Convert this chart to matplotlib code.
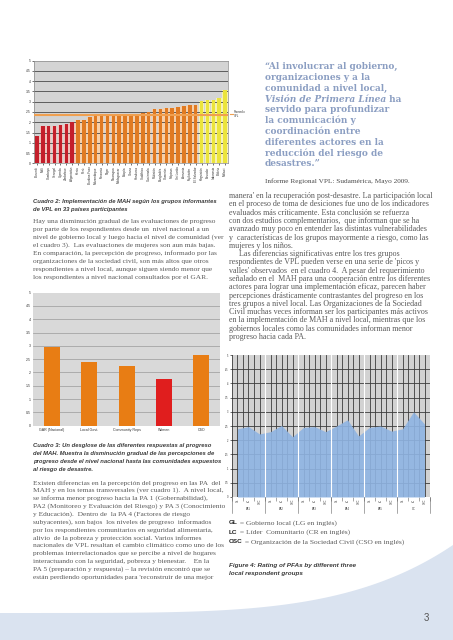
import numpy as np
import matplotlib.pyplot as plt
from matplotlib.patches import Polygon
import matplotlib.transforms as mtrans

W, H = 453, 640

# Cuadro 2: paises VPL y su puntaje promedio
paises = ['Burundi', 'Malí', 'Camboya', 'Senegal', 'Uganda', 'Zimbabue', 'Afganistán',
          'Kenia', 'Perú', 'Burkina Faso', 'Mozambique', 'Tanzania', 'Níger', 'Nicaragua',
          'Madagascar', 'Etiopía', 'Ghana', 'Honduras', 'Sudáfrica', 'Guatemala', 'Pakistán',
          'Bangladés', 'Camerún', 'Filipinas', 'Sri Lanka', 'Armenia', 'Tayikistán',
          'El Salvador', 'Kirguistán', 'Ecuador', 'Indonesia', 'Bolivia', 'Malawi']
puntajes = [1.31, 1.80, 1.80, 1.82, 1.85, 1.90, 2.00,
            2.10, 2.12, 2.25, 2.30, 2.32, 2.35, 2.35, 2.35, 2.40, 2.40, 2.42, 2.45, 2.50,
            2.65, 2.65, 2.68, 2.68, 2.75, 2.80, 2.82, 2.85,
            3.05, 3.10, 3.08, 3.20, 3.55]
nivel = ['bajo'] * 7 + ['medio'] * 21 + ['alto'] * 5
promedio_vpl = 2.33

# Cuadro 3: respuestas por grupo
grupos_resp = ['GAR (Nacional)', 'Local Govt.', 'Community Reps', 'Women', 'CSO']
progreso_resp = [2.96, 2.39, 2.26, 1.75, 2.64]

# Figure 4: PA por grupo local
pa_grupos = ['PA1', 'PA2', 'PA3', 'PA4', 'PA5', 'CC']
actores = ['GL', 'LC', 'OSC']
rating_pa = [2.40, 2.48, 2.22, 2.30, 2.52, 2.12, 2.45, 2.48, 2.30,
             2.50, 2.72, 2.15, 2.45, 2.50, 2.32, 2.40, 3.00, 2.57]

plt.rcParams['font.family'] = ['Liberation Serif', 'DejaVu Serif']

fig = plt.figure(figsize=(W / 100, H / 100), dpi=100)
fig.patch.set_facecolor('white')
rend = fig.canvas.get_renderer()

def ejes(l, t, r, b):
    return fig.add_axes([l / W, 1 - b / H, (r - l) / W, (b - t) / H])

def linea(x, y, s, **kw):
    return fig.text(x / W, 1 - y / H, s, va='center', ha='left', **kw)

def bloque(x, y0, dy, lineas, **kw):
    for i, s in enumerate(lineas):
        linea(x, y0 + i * dy, s, **kw)

def partes(x, y, trozos):
    # coloca trozos de texto uno tras otro en la misma linea
    for s, kw in trozos:
        t = linea(x, y, s, **kw)
        x += t.get_window_extent(rend).width

# fondo azul de la pagina
xs = np.linspace(0, W, 100)
ys = 613 - 68 * (xs / W) ** 4.5
poly = np.column_stack([xs / W, 1 - ys / H])
poly = np.vstack([poly, [[1, 0], [0, 0]]])
fig.patches.append(Polygon(poly, closed=True, transform=fig.transFigure,
                           facecolor='#dae3f0', edgecolor='none', zorder=0))
ys2 = 622 - 62 * (xs / W) ** 3.5
fig.lines.append(plt.Line2D(xs / W, 1 - ys2 / H, transform=fig.transFigure,
                            color='white', lw=1.5, alpha=0.8, zorder=0))

# ---------- Cuadro 2 ----------
col_fuerte = {'bajo': '#c41f2b', 'medio': '#e07a22', 'alto': '#ebe43c'}
col_suave = {'bajo': '#f1c0bb', 'medio': '#f6cfa9', 'alto': '#f6f2b4'}
ax1 = ejes(34, 60.7, 228, 163.3)
ax1.set_facecolor('#d4d4d4')
x = np.arange(len(paises))
ax1.bar(x, puntajes, width=0.95, color=[col_suave[n] for n in nivel], zorder=1)
for v in np.arange(0.5, 5, 0.5):
    ax1.axhline(v, color='#4a4a4a', lw=0.6, zorder=2)
ax1.bar(x, puntajes, width=0.6, color=[col_fuerte[n] for n in nivel], zorder=3)
ax1.axhline(promedio_vpl, color='#f0a050', lw=1.5, zorder=4)
ax1.set_xlim(-0.5, len(paises) - 0.5)
ax1.set_ylim(0, 5)
ax1.set_yticks(np.arange(0, 5.01, 0.5))
ax1.set_yticklabels(['0', '0.5', '1', '1.5', '2', '2.5', '3', '3.5', '4', '4.5', '5'],
                    fontsize=2.4, family='Liberation Sans', color='#333')
ax1.set_xticks(x)
ax1.set_xticklabels(paises, rotation=90, fontsize=2.2, family='Liberation Sans', color='#333')
ax1.tick_params(length=1.2, width=0.4, pad=1)
for s in ax1.spines.values():
    s.set_color('#888')
    s.set_linewidth(0.5)
fig.lines.append(plt.Line2D([230 / W, 233 / W], [1 - 114 / H] * 2, transform=fig.transFigure,
                            color='#f0a050', lw=0.8))
linea(233.5, 114, 'Promedio\nVPL', fontsize=2.0, family='Liberation Sans', color='#333',
      linespacing=1.0)

cap = dict(family='Liberation Sans', style='italic', weight='bold', fontsize=4.25,
           color='#3a3a3a')
bloque(33, 201.7, 7.8, ['Cuadro 2: Implementación de MAH según los grupos informantes',
                        'de VPL en 33 países participantes'], **cap)

cuerpo = dict(fontsize=5.35, color='#5a5a5a')
bloque(33, 221.7, 7.95, [
    'Hay una disminución gradual de las evaluaciones de progreso',
    'por parte de los respondientes desde un  nivel nacional a un',
    'nivel de gobierno local y luego hacia el nivel de comunidad (ver',
    'el cuadro 3).  Las evaluaciones de mujeres son aun más bajas.',
    'En comparación, la percepción de progreso, informado por las',
    'organizaciones de la sociedad civil, son más altos que otros',
    'respondientes a nivel local, aunque siguen siendo menor que',
    'los respondientes a nivel nacional consultados por el GAR.'], **cuerpo)

# ---------- Cuadro 3 ----------
ax2 = ejes(33.3, 292.7, 220, 425.7)
ax2.set_facecolor('#d9d9d9')
for v in np.arange(0.5, 5, 0.5):
    ax2.axhline(v, color='#9a9a9a', lw=0.5, zorder=1)
cols2 = ['#e87d14', '#e87d14', '#e87d14', '#e01e1e', '#e87d14']
xb = np.arange(len(grupos_resp))
ax2.bar(xb, progreso_resp, width=0.43, color=cols2, zorder=3)
ax2.set_xlim(-0.5, len(grupos_resp) - 0.5)
ax2.set_ylim(0, 5)
ax2.set_yticks(np.arange(0, 5.01, 0.5))
ax2.set_yticklabels(['0', '0.5', '1', '1.5', '2', '2.5', '3', '3.5', '4', '4.5', '5'],
                    fontsize=2.5, family='Liberation Sans', color='#333')
ax2.set_xticks(xb)
ax2.set_xticklabels(grupos_resp, fontsize=2.6, family='Liberation Sans', color='#333')
ax2.tick_params(length=0, pad=2)
for s in ax2.spines.values():
    s.set_visible(False)

bloque(33.3, 445.7, 7.8, [
    'Cuadro 3: Un desglose de las diferentes respuestas al progreso',
    'del MAH. Muestra la disminución gradual de las percepciones de',
    'progreso desde el nivel nacional hasta las comunidades expuestos',
    'al riesgo de desastre.'], **cap)

bloque(33, 482.7, 7.9, [
    'Existen diferencias en la percepción del progreso en las PA  del',
    'MAH y en los temas transversales (ver cuadro 1).  A nivel local,',
    'se informa menor progreso hacia la PA 1 (Gobernabilidad),',
    'PA2 (Monitoreo y Evaluación del Riesgo) y PA 3 (Conocimiento',
    'y Educación).  Dentro de  la PA 4 (Factores de riesgo',
    'subyacentes), son bajos  los niveles de progreso  informados',
    'por los respondientes comunitarios en seguridad alimentaria,',
    'alivio  de la pobreza y protección social. Varios informes',
    'nacionales de VPL resaltan el cambio climático como uno de los',
    'problemas interrelacionados que se percibe a nivel de hogares',
    'interactuando con la seguridad, pobreza y bienestar.    En la',
    'PA 5 (preparación y respuesta) – la revisión encontró que se',
    "están perdiendo oportunidades para 'reconstruir de una mejor"], **cuerpo)

# ---------- Cita ----------
cita = dict(family='DejaVu Serif', weight='bold', fontsize=6.5, color='#8b9ec2')
lineas_cita = ['“Al involucrar al gobierno,', 'organizaciones y a la', 'comunidad a nivel local,',
               None, 'servido para profundizar', 'la comunicación y', 'coordinación entre',
               'diferentes actores en la', 'reducción del riesgo de', 'desastres.”']
for i, s in enumerate(lineas_cita):
    y = 66.7 + i * 10.8
    if s is None:
        partes(265, y, [('Visión de Primera Línea', dict(cita, style='italic')), (' ha', cita)])
    else:
        linea(265, y, s, **cita)
linea(265, 181, 'Informe Regional VPL: Sudamérica, Mayo 2009.', fontsize=5.2, color='#4a4a4a')

cuerpo_der = dict(cuerpo, fontsize=5.8)
bloque(229, 196, 8.3, [
    "manera' en la recuperación post-desastre. La participación local",
    'en el proceso de toma de desiciones fue uno de los indicadores',
    'evaluados más críticamente. Esta conclusión se refuerza',
    'con dos estudios complementarios,  que informan que se ha',
    'avanzado muy poco en entender las distintas vulnerabilidades',
    'y  características de los grupos mayormente a riesgo, como las',
    'mujeres y los niños.',
    '     Las diferencias significativas entre los tres grupos',
    "respondientes de VPL pueden verse en una serie de 'picos y",
    "valles' observados  en el cuadro 4.  A pesar del requerimiento",
    'señalado en el  MAH para una cooperación entre los diferentes',
    'actores para lograr una implementación eficaz, parecen haber',
    'percepciones drásticamente contrastantes del progreso en los',
    'tres grupos a nivel local. Las Organizaciones de la Sociedad',
    'Civil muchas veces informan ser los participantes más activos',
    'en la implementación de MAH a nivel local, mientras que los',
    'gobiernos locales como las comunidades informan menor',
    'progreso hacia cada PA.'], **cuerpo_der)

# ---------- Figure 4 ----------
ax4 = ejes(232, 355, 430, 497)
ax4.set_facecolor('#d2d2d2')
n = len(rating_pa)
for v in np.arange(0.5, 5, 0.5):
    ax4.axhline(v, color='#3c3c3c', lw=0.6, zorder=1)
for k in np.arange(-0.5, n, 0.5):
    ax4.axvline(k, color='#3c3c3c', lw=0.6, zorder=1)
xp = np.arange(n)
ax4.fill_between(xp, rating_pa, color='#8fb4e3', alpha=0.9, lw=0, zorder=2)
for k in np.arange(2.5, n - 1, 3):
    ax4.axvline(k, color='white', lw=0.8, zorder=3)
ax4.set_xlim(-0.5, n - 0.5)
ax4.set_ylim(0, 5)
ax4.set_yticks(np.arange(0, 5.01, 0.5))
ax4.set_yticklabels(['0', '0.5', '1', '1.5', '2', '2.5', '3', '3.5', '4', '4.5', '5'],
                    fontsize=1.8, family='Liberation Sans', color='#333')
ax4.tick_params(axis='y', length=1.5, width=0.4, pad=1)
ax4.set_xticks(np.arange(-0.5, n, 0.5), minor=True)
ax4.set_xticks(xp)
ax4.set_xticklabels([actores[i % 3] for i in xp], rotation=90, fontsize=1.8,
                    family='Liberation Sans', color='#333')
ax4.tick_params(axis='x', which='major', length=0, pad=1.5)
ax4.tick_params(axis='x', which='minor', length=3, width=0.4, color='#666')
for s in ax4.spines.values():
    s.set_visible(False)
tr = mtrans.blended_transform_factory(ax4.transData, ax4.transAxes)
for g, nombre in enumerate(pa_grupos):
    ax4.text(g * 3 + 1, -0.085, nombre, transform=tr, ha='center', va='center',
             fontsize=1.9, family='Liberation Sans', color='#333')
for k in np.arange(-0.5, n, 3):
    ax4.plot([k, k], [0, -0.11], transform=tr, color='#666', lw=0.4, clip_on=False)

leg = dict(family='Liberation Sans', weight='bold', fontsize=4.6, color='#222')
txt = dict(fontsize=5.4, color='#5a5a5a')
partes(229, 523, [('GL', leg), (' = Gobierno local (LG en inglés)', txt)])
partes(229, 532, [('LC', leg), (' = Líder  Comunitario (CR en inglés)', txt)])
partes(229, 541.7, [('OSC', leg), (' = Organización de la Sociedad Civil (CSO en inglés)', txt)])
bloque(229, 566, 7.5, ['Figure 4: Rating of PFAs by different three',
                       'local respondent groups'], **dict(cap, fontsize=4.6))

linea(424, 618, '3', fontsize=7, family='Liberation Sans', color='#555')

fig.savefig('out.png', dpi=100)
